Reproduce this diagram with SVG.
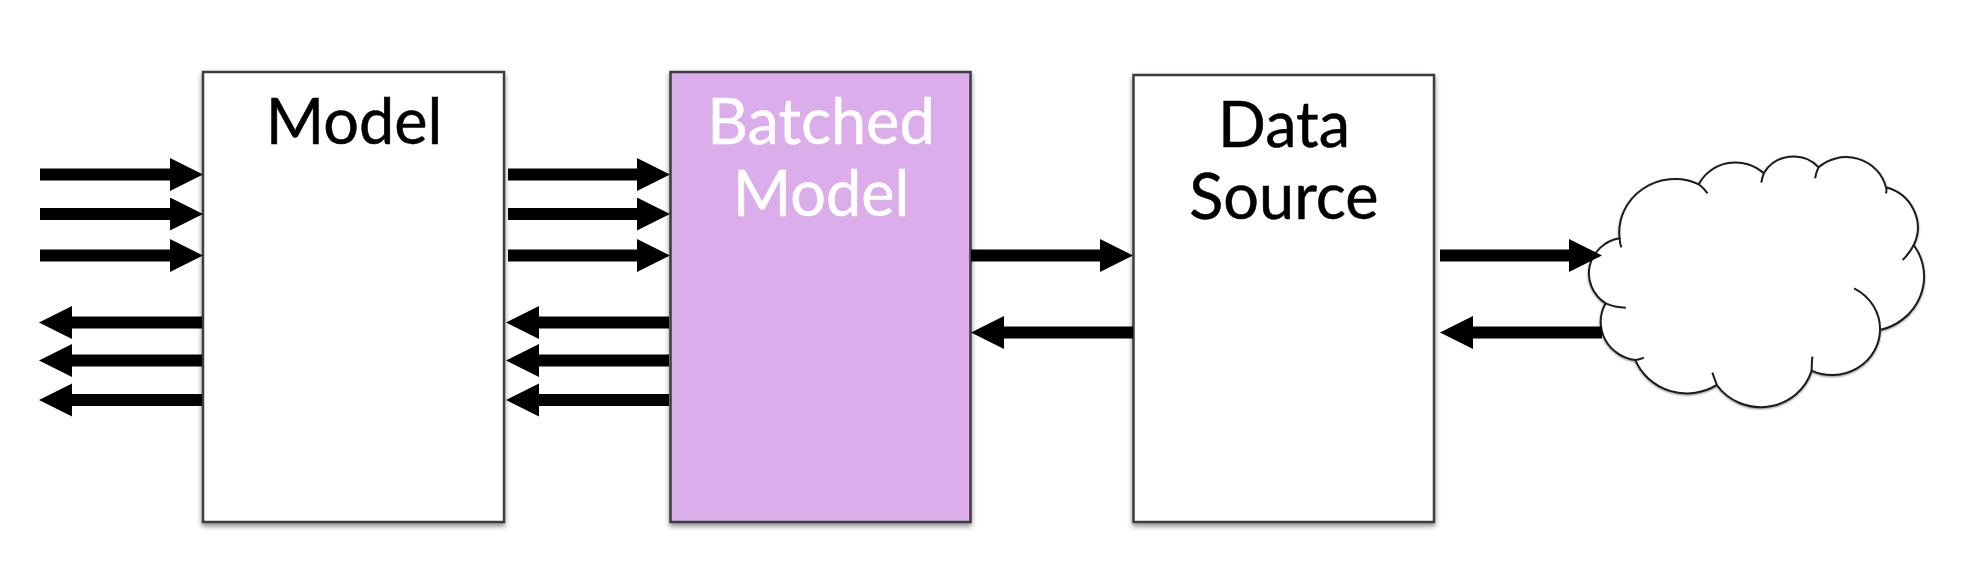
<svg xmlns="http://www.w3.org/2000/svg" width="1964" height="578" viewBox="0 0 1964 578">
<style>
.box{stroke:#3c3c3c;stroke-width:2.500;filter:url(#sh)}
.label{font-family:"Lato","Liberation Sans",sans-serif;font-size:63px;text-anchor:middle;fill:#000;stroke:#000;stroke-width:.5}
.wht{fill:#fff;stroke:#fff}
.conn line{stroke:#000;stroke-width:12;fill:none;marker-end:url(#ah)}
.cl{fill:#fff;stroke:#1c1c1c;stroke-width:2;vector-effect:non-scaling-stroke}
.hook{fill:none;stroke:#1c1c1c;stroke-width:2;vector-effect:non-scaling-stroke}
</style>
<defs>
<filter id="sh" x="-10%" y="-10%" width="120%" height="120%"><feDropShadow dx="0" dy="3" stdDeviation="2.500" flood-color="#000" flood-opacity="0.45"/></filter>
<marker id="ah" markerUnits="userSpaceOnUse" markerWidth="33" markerHeight="34" refX="0" refY="16.500" orient="auto"><path d="M0 0L33 16.500L0 33Z" fill="#000"/></marker>
</defs>
<rect width="1964" height="578" fill="#fff"/>
<g id="model"><rect class="box" x="203" y="72" width="301" height="450" fill="#fff"/><text class="label" x="354" y="144">Model</text></g>
<g id="batched-model"><rect class="box" x="670.500" y="72" width="300" height="450" fill="#dbadeb"/><text class="label wht" x="821" y="144">Batched</text><text class="label wht" x="821" y="216">Model</text></g>
<g id="data-source"><rect class="box" x="1133.500" y="75" width="300.500" height="447" fill="#fff"/><text class="label" x="1284" y="147">Data</text><text class="label" x="1284" y="219">Source</text></g>
<g id="cloud" transform="translate(1420 130) scale(.3472 .3333)">
<path class="cl" style="filter:url(#sh)" d="M575 325A160 160 0 0 1 803 163A118 118 0 0 1 990 130A98 98 0 0 1 1148 112A118 118 0 0 1 1342 172A125 125 0 0 1 1422 345A165 165 0 0 1 1325 600A138 138 0 0 1 1128 722A153 153 0 0 1 855 765A160 160 0 0 1 620 690A115 115 0 0 1 535 520A107 107 0 0 1 575 325Z"/>
<path class="hook" d="M803 163Q818 175 828 190M990 130Q985 145 983 158M1148 112Q1140 128 1138 145M1342 172Q1345 180 1342 190M1422 345Q1410 370 1390 390M1250 475A138 138 0 0 1 1325 600M1128 722Q1128 700 1130 680M855 765Q848 745 842 728M620 690Q632 689 645 683M535 520Q560 532 593 533M575 325Q575 340 580 352"/>
</g>
<g id="connectors" class="conn">
<line x1="40" y1="174.500" x2="170" y2="174.500"/>
<line x1="40" y1="214" x2="170" y2="214"/>
<line x1="40" y1="255.500" x2="170" y2="255.500"/>
<line x1="202" y1="322.500" x2="72" y2="322.500"/>
<line x1="202" y1="360.500" x2="72" y2="360.500"/>
<line x1="202" y1="400" x2="72" y2="400"/>
<line x1="508" y1="174.500" x2="637" y2="174.500"/>
<line x1="508" y1="214" x2="637" y2="214"/>
<line x1="508" y1="255.500" x2="637" y2="255.500"/>
<line x1="669" y1="322.500" x2="539" y2="322.500"/>
<line x1="669" y1="360.500" x2="539" y2="360.500"/>
<line x1="669" y1="400" x2="539" y2="400"/>
<line x1="971" y1="255.500" x2="1100" y2="255.500"/>
<line x1="1133" y1="332.500" x2="1004" y2="332.500"/>
<line x1="1440" y1="255.500" x2="1569" y2="255.500"/>
<line x1="1602" y1="332.500" x2="1473" y2="332.500"/>
</g>
</svg>
